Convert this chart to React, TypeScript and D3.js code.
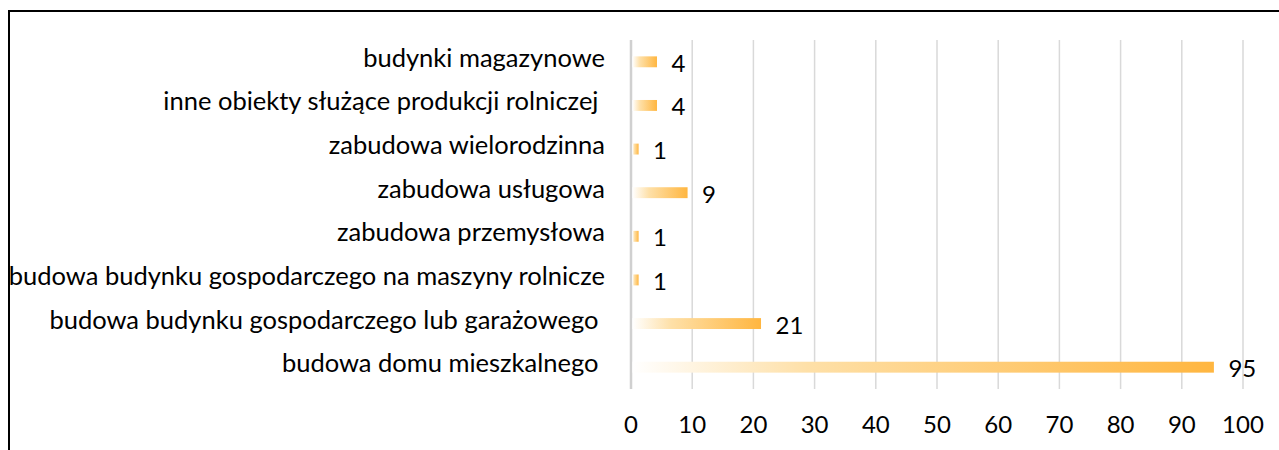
import React from "react";
import * as d3 from "d3";

const categories = [
  "budynki magazynowe",
  "inne obiekty służące produkcji rolniczej ",
  "zabudowa wielorodzinna",
  "zabudowa usługowa",
  "zabudowa przemysłowa",
  "budowa budynku gospodarczego na maszyny rolnicze",
  "budowa budynku gospodarczego lub garażowego ",
  "budowa domu mieszkalnego ",
];
const values = [4, 4, 1, 9, 1, 1, 21, 95];
const ticks = [0, 10, 20, 30, 40, 50, 60, 70, 80, 90, 100];

const W = 1279;
const H = 450;
const FONT = "Lato, 'Noto Sans', sans-serif";

export default function App() {
  const x = d3.scaleLinear().domain([0, 100]).range([631, 1243]);
  const y = d3.scaleBand<string>().domain(categories).range([40, 389]).paddingInner(0.75).paddingOuter(0.375);
  return (
    <svg width={W} height={H} style={{ position: "absolute", left: 0, top: 0, display: "block" }}>
      <defs>
        <linearGradient id="barGrad" x1="0" x2="1" y1="0" y2="0">
          <stop offset="0" stopColor="#FFFFFF" />
          <stop offset="0.3" stopColor="#FEE0A8" />
          <stop offset="1" stopColor="#FFB640" />
        </linearGradient>
      </defs>
      <rect x={0} y={0} width={W} height={H} fill="#fff" />
      <path d={`M9,${H} V11 H${W}`} fill="none" stroke="#000" strokeWidth={2} />
      {ticks.map((t) => (
        <line key={t} x1={x(t)} x2={x(t)} y1={40} y2={389} stroke={t === 0 ? "#D0D0D0" : "#D9D9D9"} strokeWidth={t === 0 ? 2.5 : 1.5} />
      ))}
      {ticks.map((t) => (
        <text key={"t" + t} x={x(t)} y={433} textAnchor="middle" fontFamily={FONT} fontSize={24} fill="#000">
          {t}
        </text>
      ))}
      {categories.map((c, i) => {
        const yc = (y(c) as number) + y.bandwidth() / 2;
        return (
          <g key={c}>
            <rect x={x(0) + 1.5} y={(y(c) as number)} width={x(values[i]) - x(0)} height={y.bandwidth()} fill="url(#barGrad)" />
            <text x={605} y={yc + 5} textAnchor="end" fontFamily={FONT} fontSize={25.5} fill="#000" style={{ whiteSpace: "pre" }}>
              {c}
            </text>
            <text x={x(values[i]) + 16} y={yc + 10} fontFamily={FONT} fontSize={24} fill="#000">
              {values[i]}
            </text>
          </g>
        );
      })}
    </svg>
  );
}
